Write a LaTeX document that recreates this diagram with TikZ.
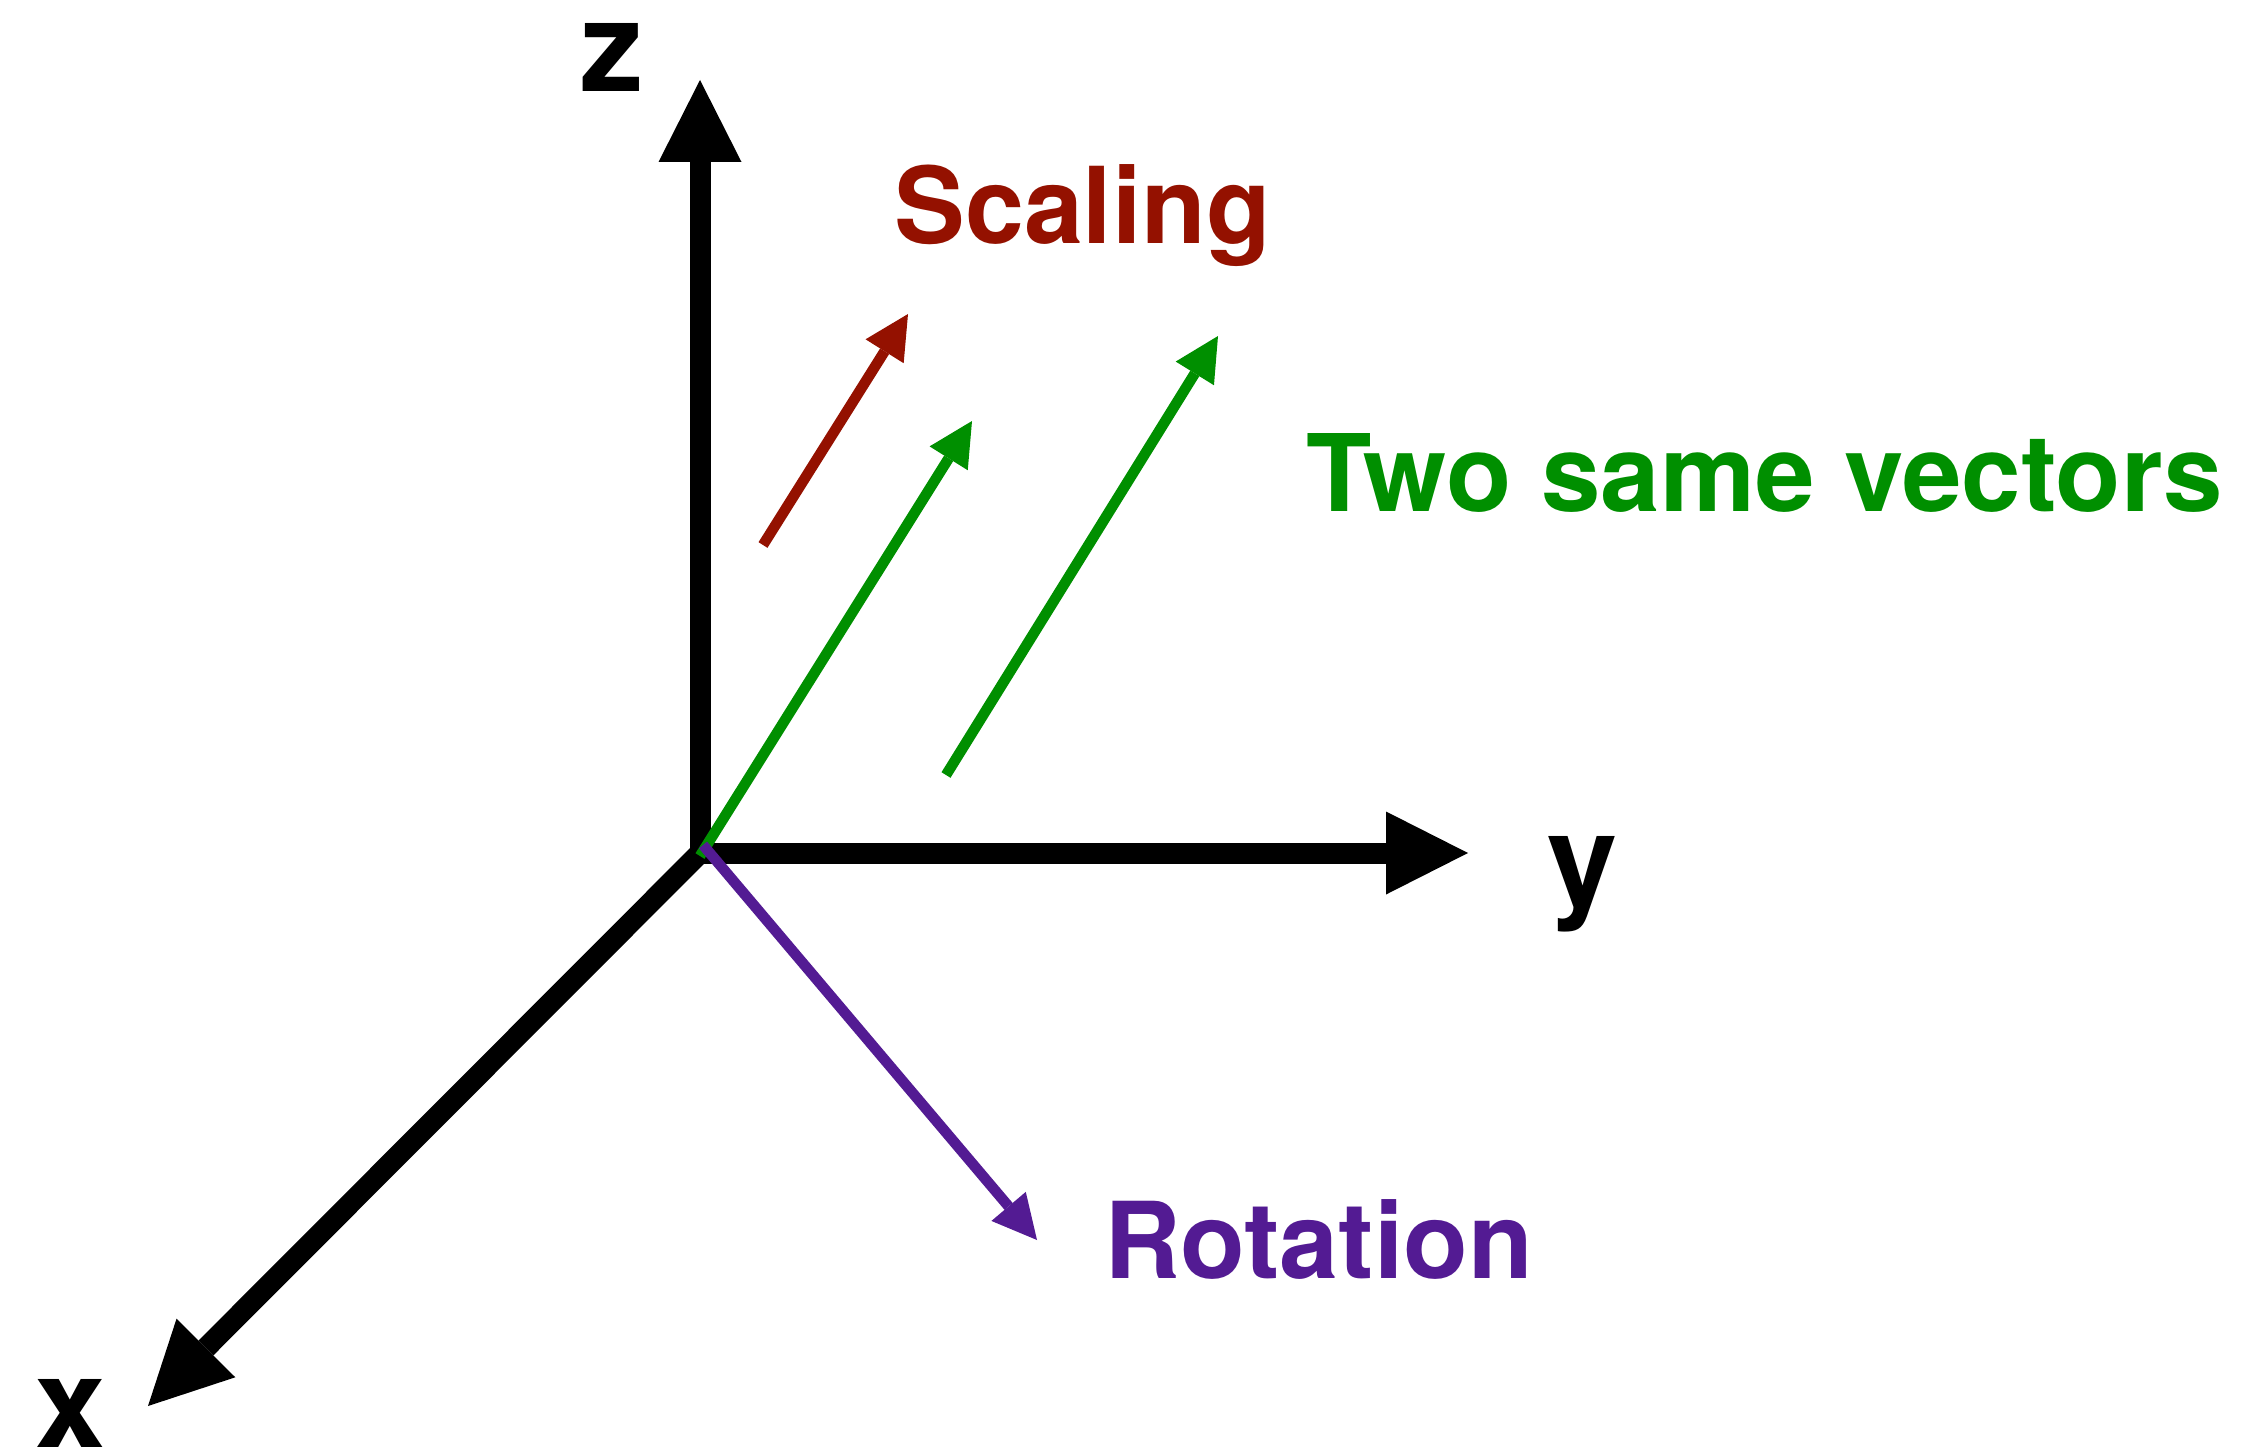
\documentclass[tikz,border=0pt]{standalone}
\usepackage{fontspec}
\setmainfont{TeX Gyre Heros}
\usetikzlibrary{arrows.meta}
\definecolor{cayenne}{RGB}{148,17,0}
\definecolor{clover}{RGB}{0,143,0}
\definecolor{grape}{RGB}{83,27,147}
\begin{document}
\begin{tikzpicture}[x=0.5pt,y=-0.5pt,
  axis/.style={line width=10.5pt,-{Triangle[length=41pt,width=41.5pt,line width=0pt]}},
  vec/.style={line width=5.3pt,-{Triangle[length=22pt,width=22.5pt,line width=0pt]}},
  axlabel/.style={font=\fontsize{63}{70}\selectfont\bfseries,inner sep=0pt,anchor=base},
  lbl/.style={font=\fontsize{53}{60}\selectfont\bfseries,inner sep=0pt,anchor=base west}]
\useasboundingbox (0,0) rectangle (2244,1450);
% axes
\coordinate (O) at (700,853);
\coordinate (Ztip) at (700,80);
\coordinate (Ytip) at (1468,853);
\coordinate (Xtip) at (148,1406);
\draw[axis] (O) -- (Ztip);
\draw[axis] (O) -- (Ytip);
\draw[axis] (O) -- (Xtip);
\node[axlabel] (zl) at (612,92) {z};
\node[axlabel] (yl) at (1583,904) {y};
\node[axlabel] (xl) at (71,1447) {x};
% vectors
\coordinate (S0) at (763,545);
\coordinate (S1) at (908,314);
\coordinate (G0) at (700,856);
\coordinate (G1) at (972,421);
\coordinate (H0) at (946,775);
\coordinate (H1) at (1218,336);
\coordinate (R0) at (703,845);
\coordinate (R1) at (1037,1240);
\draw[vec,cayenne] (S0) -- (S1);
\draw[vec,clover] (G0) -- (G1);
\draw[vec,clover] (H0) -- (H1);
\draw[vec,grape] (R0) -- (R1);
% labels
\node[lbl,text=cayenne] (scaling) at (894,243) {Scaling};
\node[lbl,text=clover] (two) at (1306,511) {\fontsize{53.5}{60}\selectfont Two same vectors};
\node[lbl,text=grape] (rot) at (1104,1278) {Rotation};
\end{tikzpicture}
\end{document}
